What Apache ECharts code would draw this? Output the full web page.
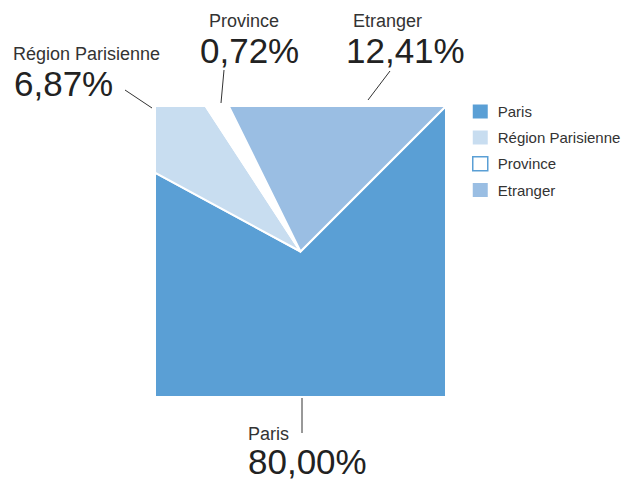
<!DOCTYPE html>
<html><head><meta charset="utf-8">
<script src="https://cdn.jsdelivr.net/npm/echarts@6/dist/echarts.min.js"></script>
<style>html,body{margin:0;padding:0;background:#fff}#c{width:633px;height:481px}</style>
</head><body><div id="c"></div>
<script>
// ---- data ----
const categories = ['Paris', 'Région Parisienne', 'Province', 'Etranger'];
const labelValues = [80.00, 6.87, 0.72, 12.41];          // printed percentages
const drawnShares = [70.4, 7.9, 1.9, 19.8];              // share of the turn each slice takes in the picture (%)

// ---- styles / layout ----
const colors = ['#5a9fd5', '#c8ddf0', '#ffffff', '#9abee3'];
const borders = ['#ffffff', '#ffffff', '#ffffff', '#ffffff'];
const legendBorder = ['#5a9fd5', '#c8ddf0', '#5a9fd5', '#9abee3'];
const SQ = { cx: 300.5, cy: 251.5, h: 145.5, startDeg: 45 };
const FONT = 'Liberation Sans, Arial, sans-serif';
const labelLayout = [
  { line: [[302, 398], [302, 433]], name: [248, 433.5], val: [248, 461.5] },
  { line: [[125, 90], [152, 108]],  name: [13, 53.5],   val: [14, 83.5] },
  { line: [[224, 70], [221, 103]],  name: [209, 20.5],  val: [200, 50] },
  { line: [[390, 71], [368, 100]],  name: [353, 20.5],  val: [346, 50] }
];

function fmt(v) { return v.toFixed(2).replace('.', ',') + '%'; }

function edgePoint(deg) {
  const a = deg * Math.PI / 180;
  const sx = Math.sin(a), sy = -Math.cos(a);
  const t = SQ.h / Math.max(Math.abs(sx), Math.abs(sy));
  return [SQ.cx + t * sx, SQ.cy + t * sy];
}

function slicePolygon(startDeg, endDeg) {
  const pts = [[SQ.cx, SQ.cy], edgePoint(startDeg)];
  let k = Math.ceil((startDeg - 45) / 90 + 1e-9);
  for (;; k++) {
    const c = 45 + 90 * k;
    if (c >= endDeg - 1e-9) break;
    pts.push(edgePoint(c));
  }
  pts.push(edgePoint(endDeg));
  return pts;
}

const total = drawnShares.reduce((a, b) => a + b, 0);
const starts = [];
{
  let acc = 0;
  drawnShares.forEach(v => { starts.push(SQ.startDeg + acc / total * 360); acc += v; });
}

const series = categories.map((name, i) => ({
  type: 'custom',
  name: name,
  coordinateSystem: 'none',
  itemStyle: { color: colors[i] },
  data: [[drawnShares[i], labelValues[i]]],
  renderItem: function (params, api) {
    const share = api.value(0);
    const s = starts[i];
    const e = s + share / total * 360;
    return {
      type: 'polygon',
      shape: { points: slicePolygon(s, e) },
      style: { fill: colors[i], stroke: borders[i], lineWidth: 2, lineJoin: 'miter' }
    };
  }
}));

const graphics = [];
categories.forEach((name, i) => {
  const L = labelLayout[i];
  graphics.push({
    type: 'line', silent: true,
    shape: { x1: L.line[0][0], y1: L.line[0][1], x2: L.line[1][0], y2: L.line[1][1] },
    style: { stroke: '#333', lineWidth: 1 }
  });
  graphics.push({
    type: 'text', silent: true, x: L.name[0], y: L.name[1],
    style: { text: name, fill: '#333', font: '18px ' + FONT, align: 'left', verticalAlign: 'middle', lineHeight: 15 }
  });
  graphics.push({
    type: 'text', silent: true, x: L.val[0], y: L.val[1],
    style: { text: fmt(labelValues[i]), fill: '#222', font: '35px ' + FONT, align: 'left', verticalAlign: 'middle', lineHeight: 26 }
  });
});

const chart = echarts.init(document.getElementById('c'), null, { renderer: 'svg' });
chart.setOption({
  animation: false,
  backgroundColor: '#fff',
  legend: {
    orient: 'vertical',
    left: 472, top: 104, padding: 0,
    itemWidth: 15, itemHeight: 14, itemGap: 11,
    icon: 'rect',
    selectedMode: false,
    textStyle: { color: '#333', fontSize: 15, fontFamily: FONT, padding: [0, 0, 0, 5] },
    data: categories.map((n, i) => ({
      name: n,
      itemStyle: { color: colors[i], borderColor: legendBorder[i], borderWidth: i === 2 ? 1.5 : 0 }
    }))
  },
  graphic: graphics,
  series: series
});
</script></body></html>
